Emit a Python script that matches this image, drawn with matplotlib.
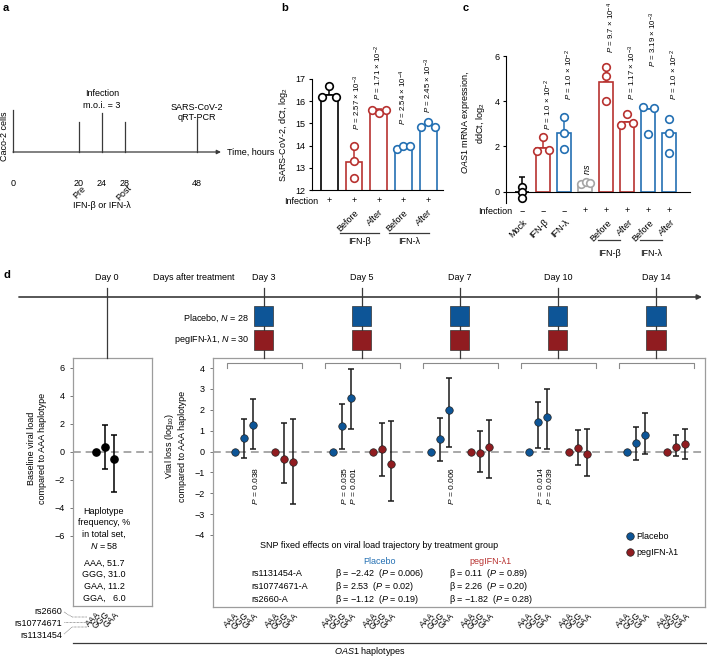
import matplotlib
matplotlib.use("Agg")
import matplotlib.pyplot as plt
import matplotlib.transforms as mtransforms
from matplotlib.patches import Rectangle
from matplotlib.lines import Line2D
import numpy as np

plt.rcParams.update({
    "font.family": ["Liberation Sans", "DejaVu Sans"],
    "mathtext.fontset": "custom",
    "mathtext.rm": "Liberation Sans",
    "mathtext.it": "Liberation Sans:italic",
    "mathtext.bf": "Liberation Sans:bold",
    "font.size": 6.5,
    "axes.linewidth": 0.8,
})

# ======================= DATA =======================
# panel a : experiment timeline (hours)
a_times = [0, 20, 24, 28, 48]
a_tick_labels = ["0", "20", "24", "28", "48"]

# panel b : SARS-CoV-2 dCt, log2
b_labels = ["", "Before", "After", "Before", "After"]
b_infection = ["+", "+", "+", "+", "+"]
b_bar = [16.3, 13.25, 15.57, 13.95, 14.92]
b_points = [[16.68, 16.2, 16.2], [14.0, 13.3, 12.55], [15.62, 15.62, 15.47],
            [13.85, 14.0, 14.0], [14.84, 15.07, 14.84]]
b_err_top = [16.76, 14.0, 15.65, 14.02, 15.07]
b_pvals = ["", "$P$ = 2.57 × $10^{-3}$", "$P$ = 1.71 × $10^{-2}$",
           "$P$ = 2.54 × $10^{-4}$", "$P$ = 2.45 × $10^{-3}$"]
b_groups = ["IFN-β", "IFN-λ"]

# panel c : OAS1 mRNA ddCt, log2
c_labels = ["Mock", "IFN-β", "IFN-λ", "", "Before", "After", "Before", "After"]
c_infection = ["−", "−", "−", "+", "+", "+", "+", "+"]
c_bar = [0.0, 1.95, 2.6, 0.28, 4.85, 3.1, 3.65, 2.6]
c_points = [[0.22, 0.0, -0.26], [2.43, 1.8, 1.85], [3.3, 2.6, 1.9],
            [0.32, 0.45, 0.4], [5.5, 5.1, 4.0], [2.95, 3.45, 3.05],
            [3.75, 3.7, 2.55], [3.2, 2.6, 1.7]]
c_err_lo = [-0.36, 1.95, 2.6, 0.28, 4.85, 3.1, 3.65, 2.6]
c_err_hi = [0.64, 2.5, 3.4, 0.28, 5.6, 3.1, 3.65, 2.6]
c_pvals = ["", "$P$ = 1.0 × $10^{-2}$", "$P$ = 1.0 × $10^{-2}$", "ns",
           "$P$ = 9.7 × $10^{-4}$", "$P$ = 1.17 × $10^{-3}$",
           "$P$ = 3.19 × $10^{-3}$", "$P$ = 1.0 × $10^{-2}$"]
c_groups = ["IFN-β", "IFN-λ"]

# panel d : baseline viral load by haplotype
haps = ["AAA", "GGG", "GAA"]
base_mean = [0.0, 0.36, -0.52]
base_lo = [0.0, -1.24, -2.86]
base_hi = [0.0, 1.95, 1.24]
hap_freq = [("AAA", "51.7"), ("GGG", "31.0"), ("GAA", "11.2"), ("GGA", "  6.0")]
snps = ["rs2660", "rs10774671", "rs1131454"]

# panel d : viral loss by day and haplotype
days = [0, 3, 5, 7, 10, 14]
pl_mean = [[0, 0.64, 1.25], [0, 1.22, 2.56], [0, 0.61, 2.0], [0, 1.41, 1.63], [0, 0.43, 0.79]]
pl_lo = [[0, -0.3, 0.14], [0, 0.14, 1.06], [0, -0.46, 0.2], [0, 0.19, 0.14], [0, -0.42, -0.1]]
pl_hi = [[0, 1.57, 2.53], [0, 2.3, 3.94], [0, 1.59, 3.54], [0, 2.37, 2.98], [0, 1.19, 1.86]]
pg_mean = [[0, -0.34, -0.5], [0, 0.11, -0.58], [0, -0.06, 0.22], [0, 0.18, -0.13], [0, 0.22, 0.35]]
pg_lo = [[0, -1.5, -2.5], [0, -1.19, -2.39], [0, -1.0, -1.25], [0, -0.66, -1.19], [0, -0.22, -0.38]]
pg_hi = [[0, 1.38, 1.57], [0, 1.35, 1.44], [0, 1.0, 1.52], [0, 1.03, 1.06], [0, 0.77, 1.06]]
# (day index, haplotype index, P)
pl_pvals = [(0, 2, "0.038"), (1, 1, "0.035"), (1, 2, "0.001"), (2, 2, "0.006"),
            (3, 1, "0.014"), (3, 2, "0.039")]
snp_rows = ["rs1131454-A", "rs10774671-A", "rs2660-A"]
beta_pl = ["−2.42", "2.53", "−1.12"]
p_pl = ["0.006", "0.02", "0.19"]
beta_pg = ["0.11", "2.26", "−1.82"]
p_pg = ["0.89", "0.20", "0.28"]
n_placebo, n_peg = 28, 30

# ======================= STYLE / LAYOUT =======================
RED = "#b83230"
BLUE = "#2470b3"
GREY = "#a6a6a6"
DBLUE = "#0d5597"
DRED = "#901c20"
LINE = "#3a3a3a"

b_colors = ["black", RED, RED, BLUE, BLUE]
c_colors = ["black", RED, BLUE, GREY, RED, RED, BLUE, BLUE]
b_jit = [[0, -0.28, 0.28], [0, 0, 0], [-0.28, 0.28, 0], [-0.28, 0, 0.28], [-0.28, 0, 0.28]]
c_jit = [[0, 0, 0], [0, -0.28, 0.28], [0, 0, 0], [-0.18, 0.05, 0.26], [0, 0, 0],
         [-0.28, 0, 0.28], [-0.25, 0.3, 0], [0, 0, 0]]
b_ptxt_y = [0, 14.7, 16.05, 14.93, 15.47]
c_ptxt_y = [0, 2.73, 4.05, 0.72, 6.12, 4.05, 5.5, 4.05]
a_x_px = [13, 79, 102, 125, 197]          # schematic (non-linear) positions of the events
a_tops = [110, 122, 113, 122, 120]
PFS = 5.7                                  # P-value font size in b / c

W, H = 707, 657
fig = plt.figure(figsize=(W / 100, H / 100), dpi=100)


def px_axes(l, t, r, b):
    ax = fig.add_axes([l / W, 1 - b / H, (r - l) / W, (b - t) / H])
    ax.patch.set_alpha(0)
    return ax


ov = px_axes(0, 0, W, H)
ov.set_xlim(0, W)
ov.set_ylim(H, 0)
ov.axis("off")
ov.set_zorder(5)


def blend(ax):
    return mtransforms.blended_transform_factory(ax.transData, ov.transData)


FS = 6.5

# ---------------- panel a ----------------
ov.annotate("", xy=(221, 152), xytext=(a_x_px[0], 152),
            arrowprops=dict(arrowstyle="-|>", lw=0.9, color=LINE, mutation_scale=6,
                            shrinkA=0, shrinkB=0))
for x, top, lab in zip(a_x_px, a_tops, a_tick_labels):
    ov.plot([x, x], [top, 152], color=LINE, lw=0.9)
    ov.text(x, 183, lab, ha="center", va="center", fontsize=FS)
ov.text(5, 136, "Caco-2 cells", rotation=90, ha="center", va="center", fontsize=FS)
ov.text(a_x_px[2], 94, "Infection", ha="center", va="center", fontsize=FS)
ov.text(a_x_px[2], 105, "m.o.i. = 3", ha="center", va="center", fontsize=FS)
ov.text(a_x_px[4], 108, "SARS-CoV-2", ha="center", va="center", fontsize=FS)
ov.text(a_x_px[4], 118, "qRT-PCR", ha="center", va="center", fontsize=FS)
ov.text(227, 152, "Time, hours", ha="left", va="center", fontsize=FS)
ov.text(a_x_px[1] + 5, 187, "Pre", rotation=45, ha="right", va="center",
        rotation_mode="anchor", fontsize=FS)
ov.text(a_x_px[3] + 5, 187, "Post", rotation=45, ha="right", va="center",
        rotation_mode="anchor", fontsize=FS)
ov.text(a_x_px[2], 205, "IFN-β or IFN-λ", ha="center", va="center", fontsize=FS)

# ---------------- panel b ----------------
axb = px_axes(312, 79, 443, 190)
xb = np.arange(1, len(b_bar) + 1)
axb.set_xlim(0.3, 5.6)
axb.set_ylim(12, 17)
for s in ["top", "right"]:
    axb.spines[s].set_visible(False)
axb.set_xticks([])
axb.set_yticks([12, 13, 14, 15, 16, 17])
axb.tick_params(axis="y", length=2.5, width=0.8, pad=2, labelsize=FS)
for i in range(len(b_bar)):
    axb.errorbar([xb[i]], [b_bar[i]], yerr=[[0], [b_err_top[i] - b_bar[i]]],
                 fmt="none", ecolor=b_colors[i], elinewidth=1.1, capsize=2.5, capthick=1.1, zorder=1)
axb.bar(xb, b_bar, width=0.68, facecolor="white", edgecolor=b_colors, lw=1.2, zorder=2)
for i, (pts, jit) in enumerate(zip(b_points, b_jit)):
    axb.scatter(xb[i] + np.array(jit), pts, s=30, facecolors="white",
                edgecolors=b_colors[i], linewidths=1.2, zorder=3)
    if b_pvals[i]:
        axb.text(xb[i] + (0.15 if i == 1 else 0.0), b_ptxt_y[i], b_pvals[i], rotation=90,
                 ha="center", va="bottom", fontsize=PFS)
ov.text(284, 135, "SARS-CoV-2, dCt, log$_2$", rotation=90, ha="center", va="center", fontsize=FS)
bb = blend(axb)
ov.text(318, 201, "Infection", ha="right", va="center", fontsize=FS)
for i, x in enumerate(xb):
    ov.text(x, 201, b_infection[i], ha="center", va="center", fontsize=FS, transform=bb)
    if b_labels[i]:
        ov.text(x + 0.12, 211, b_labels[i], rotation=45, ha="right", va="center",
                rotation_mode="anchor", fontsize=FS, transform=bb)
for g, (i0, i1) in zip(b_groups, [(1, 2), (3, 4)]):
    x0, x1 = xb[i0] - 0.57, xb[i1] + 0.03
    ov.plot([x0, x1], [233, 233], color=LINE, lw=0.9, transform=bb, clip_on=False)
    ov.text((x0 + x1) / 2, 242, g, ha="center", va="center", fontsize=FS, transform=bb)

# ---------------- panel c ----------------
axc = px_axes(506, 56, 690, 203)
xc = np.arange(1, len(c_bar) + 1)
axc.set_xlim(0.24, 9.0)
axc.set_ylim(-0.5, 6)
for s in ["top", "right"]:
    axc.spines[s].set_visible(False)
axc.spines["bottom"].set_position(("data", 0))
axc.set_xticks([])
axc.set_yticks([0, 2, 4, 6])
axc.tick_params(axis="y", length=2.5, width=0.8, pad=2, labelsize=FS)
for i in range(len(c_bar)):
    axc.errorbar([xc[i]], [c_bar[i]], yerr=[[c_bar[i] - c_err_lo[i]], [c_err_hi[i] - c_bar[i]]],
                 fmt="none", ecolor=c_colors[i], elinewidth=1.1, capsize=2.5, capthick=1.1, zorder=1)
axc.bar(xc, c_bar, width=0.67, facecolor="white", edgecolor=c_colors, lw=1.2, zorder=2)
for i, (pts, jit) in enumerate(zip(c_points, c_jit)):
    axc.scatter(xc[i] + np.array(jit), pts, s=30, facecolors="white",
                edgecolors=c_colors[i], linewidths=1.2, zorder=3)
    if c_pvals[i] == "ns":
        axc.text(xc[i] + 0.1, c_ptxt_y[i], "$ns$", rotation=90, ha="center", va="bottom",
                 fontsize=FS)
    elif c_pvals[i]:
        axc.text(xc[i] + 0.25, c_ptxt_y[i], c_pvals[i], rotation=90,
                 ha="center", va="bottom", fontsize=PFS)
ov.text(473, 123, "$\\mathit{OAS1}$ mRNA expression,\nddCt, log$_2$", rotation=90,
        ha="center", va="center", fontsize=FS, linespacing=1.2)
cb = blend(axc)
ov.text(512, 211, "Infection", ha="right", va="center", fontsize=FS)
for i, x in enumerate(xc):
    ov.text(x, 211, c_infection[i], ha="center", va="center", fontsize=FS, transform=cb)
    if c_labels[i]:
        ov.text(x + 0.2, 221, c_labels[i], rotation=45, ha="right", va="center",
                rotation_mode="anchor", fontsize=FS, transform=cb)
for g, (i0, i1) in zip(c_groups, [(4, 5), (6, 7)]):
    mid = (xc[i0] + xc[i1]) / 2 - 0.35
    x0, x1 = mid - 0.53, mid + 0.53
    ov.plot([x0, x1], [240, 240], color=LINE, lw=0.9, transform=cb, clip_on=False)
    ov.text(mid, 254, g, ha="center", va="center", fontsize=FS, transform=cb)

# ---------------- panel d : left box ----------------
axL = px_axes(73, 358, 152, 606)
xL = np.arange(len(haps))
axL.set_xlim(-2.5, 6.1)
axL.set_ylim(-11, 6.7)
for s in axL.spines.values():
    s.set_color("#9c9c9c")
    s.set_linewidth(0.9)
axL.set_yticks([-6, -4, -2, 0, 2, 4, 6])
axL.tick_params(axis="y", length=2.5, width=0.7, color="#777777", pad=3.5, labelsize=FS)
axL.set_xticks(xL)
axL.set_xticklabels(haps, rotation=45, ha="right", rotation_mode="anchor", fontsize=6.2)
axL.tick_params(axis="x", length=0, pad=3)
axL.axhline(0, color="#a8a8a8", lw=1.4, ls=(0, (4, 2.5)), zorder=1)
axL.errorbar(xL, base_mean, yerr=[np.array(base_mean) - np.array(base_lo), np.array(base_hi) - np.array(base_mean)],
             fmt="o", color="black", ms=5.2, elinewidth=1.1, capsize=2.3, capthick=1.1, zorder=3)
ov.text(37, 448, "Baseline viral load\ncompared to AAA haplotype", rotation=90,
        ha="center", va="center", fontsize=FS, linespacing=1.2)
for k, s in enumerate(["Haplotype", "frequency, %", "in total set,", "$N$ = 58"]):
    ov.text(104, 511 + 11.7 * k, s, ha="center", va="center", fontsize=FS)
for k, (h, f) in enumerate(hap_freq):
    ov.text(104, 563 + 11.7 * k, f"{h}, {f}", ha="center", va="center", fontsize=FS)
for k, s in enumerate(snps):
    ov.text(62, 611 + 12.5 * k, s, ha="right", va="center", fontsize=FS)
ov.plot([64, 72, 87], [612, 617, 617], color="#555555", lw=0.5, ls=(0, (1, 1)))
ov.plot([64, 87], [622, 622], color="#555555", lw=0.5, ls=(0, (1, 1)))
ov.plot([64, 72, 87], [634, 627, 627], color="#555555", lw=0.5, ls=(0, (1, 1)))

# ---------------- panel d : right box ----------------
axR = px_axes(213, 358, 705, 607)
day_c = np.arange(len(pl_mean)) * 10.0
off_pl = np.array([-3.0, -2.05, -1.1])
off_pg = np.array([1.1, 2.05, 3.0])
axR.set_xlim(-5.2, 45.0)
axR.set_ylim(-7.45, 4.48)
for s in axR.spines.values():
    s.set_color("#9c9c9c")
    s.set_linewidth(0.9)
axR.set_yticks(range(-4, 5))
axR.tick_params(axis="y", length=2.5, width=0.7, color="#777777", pad=3.5, labelsize=FS)
xt, xl = [], []
for c in day_c:
    for o, h in zip(list(off_pl) + list(off_pg), haps + haps):
        xt.append(c + o)
        xl.append(h)
axR.set_xticks(xt)
axR.set_xticklabels(xl, rotation=45, ha="right", rotation_mode="anchor", fontsize=6.2)
axR.tick_params(axis="x", length=0, pad=3)
axR.axhline(0, color="#a8a8a8", lw=1.4, ls=(0, (4, 2.5)), zorder=1)
for d, c in enumerate(day_c):
    for off, m, lo, hi, col in [(off_pl, pl_mean, pl_lo, pl_hi, DBLUE),
                                (off_pg, pg_mean, pg_lo, pg_hi, DRED)]:
        mm = np.array(m[d]); ll = np.array(lo[d]); hh = np.array(hi[d])
        axR.errorbar(c + off, mm, yerr=[mm - ll, hh - mm], fmt="none", ecolor="#1a1a1a",
                     elinewidth=1.1, capsize=2.3, capthick=1.1, zorder=2)
        axR.plot(c + off, mm, "o", ms=5.4, mfc=col, mec="#222222", mew=0.5, ls="none", zorder=3)
for d, h, p in pl_pvals:
    axR.text(day_c[d] + off_pl[h] + 0.25, -0.72, f"$P$ = {p}", rotation=90, ha="center",
             va="top", fontsize=6.1)
Rb = blend(axR)
for c in day_c:
    ov.plot([c - 3.8, c - 3.8, c + 3.9, c + 3.9], [368, 363, 363, 368], color="#8a8a8a",
            lw=0.8, transform=Rb, clip_on=False)
ov.text(175, 446, "Viral loss (log$_{10}$)\ncompared to AAA haplotype", rotation=90,
        ha="center", va="center", fontsize=FS, linespacing=1.2)
ov.text(379, 545, "SNP fixed effects on viral load trajectory by treatment group",
        ha="center", va="center", fontsize=FS)
ov.text(379, 561, "Placebo", ha="center", va="center", fontsize=FS, color=BLUE)
ov.text(490, 561, "pegIFN-λ1", ha="center", va="center", fontsize=FS, color=RED)
for k in range(len(snp_rows)):
    y = 574 + 12.5 * k
    ov.text(251, y, snp_rows[k], ha="left", va="center", fontsize=FS)
    ov.text(335, y, f"β = {beta_pl[k]}  ($P$ = {p_pl[k]})", ha="left", va="center", fontsize=FS)
    ov.text(449, y, f"β = {beta_pg[k]}  ($P$ = {p_pg[k]})", ha="left", va="center", fontsize=FS)
handles = [Line2D([], [], marker="o", ls="none", ms=5.4, mfc=DBLUE, mec="#222222", mew=0.5),
           Line2D([], [], marker="o", ls="none", ms=5.4, mfc=DRED, mec="#222222", mew=0.5)]
axR.legend(handles, ["Placebo", "pegIFN-λ1"], loc="upper left", bbox_to_anchor=(625, 532),
           bbox_transform=ov.transData, frameon=False, fontsize=FS, handletextpad=0.3,
           labelspacing=0.75, handlelength=1.0, borderaxespad=0, borderpad=0)

# ---------------- panel d : timeline ----------------
day_x = [-16.0] + list(day_c)
ov.annotate("", xy=(44.7, 297), xytext=(-25.0, 297), xycoords=Rb, textcoords=Rb,
            arrowprops=dict(arrowstyle="-|>", lw=1.2, color=LINE, mutation_scale=7,
                            shrinkA=0, shrinkB=0))
for k, (dd, x) in enumerate(zip(days, day_x)):
    ov.plot([x, x], [288, 358], color=LINE, lw=0.9, transform=Rb, clip_on=False, zorder=1)
    ov.text(x, 278, f"Day {dd}", ha="center", va="center", fontsize=FS, transform=Rb)
    if k > 0:
        ov.add_patch(Rectangle((x - 0.97, 306), 1.94, 20, transform=Rb, facecolor=DBLUE,
                               edgecolor="#333333", lw=0.5, clip_on=False, zorder=2))
        ov.add_patch(Rectangle((x - 0.97, 330), 1.94, 19.5, transform=Rb, facecolor=DRED,
                               edgecolor="#333333", lw=0.5, clip_on=False, zorder=2))
ov.text(194, 278, "Days after treatment", ha="center", va="center", fontsize=FS)
ov.text(249, 318, f"Placebo, $N$ = {n_placebo}", ha="right", va="center", fontsize=FS)
ov.text(249, 340, f"pegIFN-λ1, $N$ = {n_peg}", ha="right", va="center", fontsize=FS)

ov.plot([73, 707], [643, 643], color=LINE, lw=0.9)
ov.text(370, 652, "$\\mathit{OAS1}$ haplotypes", ha="center", va="center", fontsize=FS)

# panel letters
for lab, x, y in [("a", 3, 8), ("b", 281, 8), ("c", 463, 8), ("d", 3, 275)]:
    ov.text(x, y, lab, ha="left", va="center", fontsize=8, fontweight="bold")

fig.savefig("out.png", dpi=100)
